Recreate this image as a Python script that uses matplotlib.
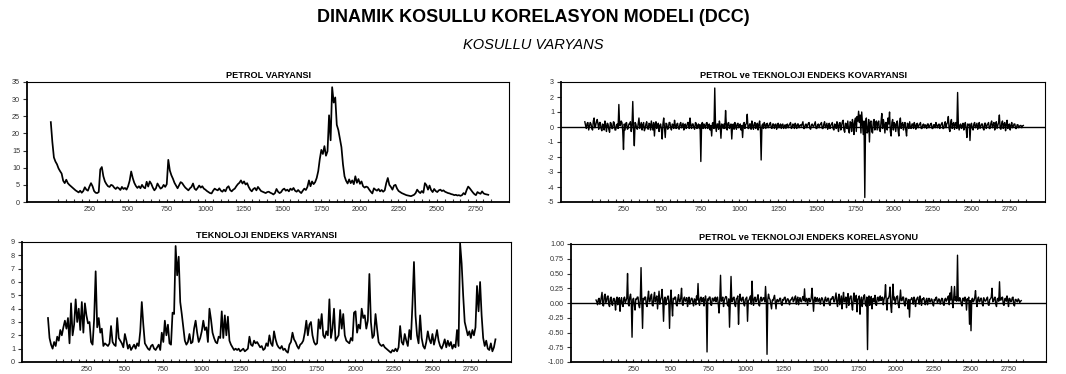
import numpy as np
import matplotlib
matplotlib.use("Agg")
import matplotlib.pyplot as plt
from matplotlib.ticker import FixedLocator, FormatStrFormatter

plt.rcParams['font.family'] = ['Liberation Sans', 'DejaVu Sans']

# Variances are sampled every 10 observations, covariance/correlation every 5
VAR_STEP = 10
COV_STEP = 5
START = 1

petrol_var = [
    23.3, 17.5, 13.0, 11.8, 11.0, 9.8, 9.0, 8.3, 6.2, 5.5,
    6.5, 5.5, 5.0, 4.6, 4.2, 3.8, 3.4, 3.1, 2.8, 3.3,
    2.7, 3.2, 4.3, 3.6, 3.3, 4.5, 5.5, 4.6, 3.2, 2.7,
    2.6, 2.9, 9.5, 10.2, 7.5, 6.0, 5.2, 4.6, 4.4, 5.0,
    4.8, 4.2, 3.8, 4.3, 4.0, 3.5, 4.4, 3.8, 4.1, 3.6,
    4.6, 6.2, 8.9, 7.0, 5.6, 4.7, 4.1, 4.6, 4.0, 5.0,
    4.3, 4.0, 5.9, 4.5, 6.0, 5.3, 4.2, 3.4, 4.0, 5.4,
    4.6, 3.9, 4.2, 5.0, 4.4, 5.2, 12.3, 9.2, 7.8, 6.8,
    5.6, 4.8, 4.0, 4.9, 5.8, 5.5, 4.8, 4.2, 3.8, 3.4,
    4.0, 4.4, 5.4, 3.9, 3.5, 4.1, 4.8, 4.2, 4.6, 3.9,
    3.6, 3.2, 2.9, 2.6, 2.5, 3.3, 3.9, 3.6, 3.4, 4.0,
    3.3, 3.0, 3.6, 3.1, 4.2, 4.6, 3.5, 3.1, 3.6, 3.9,
    4.6, 5.2, 5.6, 6.3, 5.4, 6.0, 5.1, 5.5, 4.4, 3.6,
    3.1, 3.8, 4.1, 3.4, 4.4, 3.8, 3.2, 3.0, 2.8, 2.6,
    2.9, 3.0, 2.7, 2.5, 2.2, 2.6, 3.8, 3.0, 2.6, 2.9,
    3.6, 3.9, 3.3, 3.6, 3.1, 3.9, 3.5, 4.1, 3.3, 3.0,
    3.5, 3.0, 2.6, 3.3, 3.9, 3.5, 4.4, 6.3, 4.6, 6.0,
    5.2, 5.8, 7.0, 9.0, 12.5, 15.2, 14.0, 16.3, 13.5, 14.8,
    25.3, 18.0, 33.5, 29.0, 30.5, 22.5, 21.0, 18.5, 16.0, 11.0,
    7.5, 6.2, 5.4, 6.6, 5.5, 6.3, 5.2, 7.5, 5.6, 6.7,
    5.3, 6.0, 4.6, 4.2, 4.5, 4.3, 3.6, 3.0, 2.5, 4.0,
    3.6, 3.3, 3.8, 3.1, 3.5, 3.0, 3.4, 5.5, 7.0, 5.0,
    4.4, 3.6, 4.8, 5.0, 3.9, 3.2, 2.9, 2.6, 2.4, 2.2,
    2.0, 1.9, 1.8, 1.7, 1.9, 2.1, 2.6, 3.6, 3.0, 2.6,
    3.2, 2.7, 5.5, 4.9, 3.6, 4.8, 3.5, 2.9, 3.8, 3.2,
    2.9, 3.4, 3.6, 3.2, 3.4, 3.0, 2.8, 2.6, 2.5, 2.3,
    2.2, 2.0, 2.1, 1.9, 2.0, 1.8, 2.0, 2.6, 2.2, 3.5,
    4.5, 4.0, 3.4, 2.8, 2.3, 2.0, 2.9, 2.6, 2.4, 3.1,
    2.5, 2.3, 2.2, 2.1,
]

tech_var = [
    3.3, 1.8, 1.3, 1.0, 1.5, 1.2, 1.9, 1.6, 2.4, 2.0,
    2.6, 3.1, 2.5, 3.3, 1.4, 4.4, 2.0, 2.8, 4.7, 3.0,
    4.0, 2.4, 4.5, 2.2, 4.4, 3.5, 2.9, 3.0, 1.5, 1.3,
    3.2, 6.8, 2.6, 3.3, 2.2, 2.5, 1.2, 1.4, 1.3, 1.2,
    1.4, 2.7, 1.5, 1.3, 1.2, 3.3, 1.8, 1.6, 1.4, 1.1,
    2.1, 1.6, 1.0, 1.3, 0.9, 1.1, 1.3, 1.0, 1.4, 1.2,
    2.3, 4.5, 2.8, 1.4, 1.2, 1.0, 0.9, 1.2, 1.3, 1.0,
    0.9, 1.1, 1.3, 0.9, 2.2, 1.5, 3.1, 2.0, 2.8, 1.4,
    1.3, 3.7, 3.6, 8.7, 6.5, 7.9, 4.5, 3.6, 2.6, 1.6,
    1.3, 1.5, 2.1, 1.4, 1.5, 2.5, 3.1, 2.2, 1.5, 1.8,
    2.3, 3.1, 2.4, 2.6, 1.5, 4.0, 3.2, 2.2, 1.8, 1.5,
    1.4, 1.9, 1.8, 3.8, 1.8, 3.5, 2.0, 3.4, 1.6, 1.3,
    1.1, 0.9, 1.0, 0.9, 1.0, 0.8, 0.9, 1.0, 0.8, 0.9,
    1.0, 1.9, 1.3, 1.2, 1.6, 1.4, 1.5, 1.3, 1.1, 1.2,
    0.9, 1.0, 1.4, 1.2, 2.0, 1.4, 1.2, 2.3, 1.7, 1.3,
    1.1, 1.0, 1.2, 0.9, 1.0, 0.8, 0.7, 1.3, 1.5, 2.2,
    1.7, 1.5, 1.2, 1.0, 1.3, 1.4, 1.6, 2.2, 3.1, 2.0,
    2.8, 3.0, 2.0, 1.5, 1.3, 1.4, 3.2, 2.5, 3.6, 2.0,
    1.8, 2.3, 2.0, 4.7, 1.8, 2.5, 4.0, 1.6, 1.8, 2.0,
    3.9, 2.5, 3.6, 2.0, 1.6, 1.5, 1.4, 1.8, 1.6, 3.7,
    3.8, 2.2, 2.8, 2.5, 4.0, 3.3, 3.5, 2.5, 3.1, 6.6,
    3.0, 1.8, 2.0, 3.6, 2.5, 1.5, 1.3, 1.2, 1.3, 1.1,
    1.0, 0.9, 0.8, 0.7, 0.9, 0.8, 1.0, 0.8, 1.1, 2.7,
    1.5, 1.3, 2.1, 1.6, 1.2, 2.4, 1.7, 4.3, 7.5, 3.5,
    2.0, 1.4, 3.5, 1.8, 1.2, 1.0, 1.5, 2.3, 1.7, 1.4,
    2.1, 1.3, 1.8, 2.4, 1.6, 1.2, 1.0, 1.3, 1.7, 1.1,
    1.6, 1.2, 1.5, 1.0, 1.3, 1.1, 2.4, 1.2, 8.9, 7.4,
    5.0, 3.0, 2.5, 2.0, 2.3, 1.8, 2.4, 2.0, 2.6, 5.7,
    3.8, 6.0, 3.5, 1.8, 1.2, 1.6, 1.0, 0.9, 1.4, 0.8,
    1.1, 1.7,
]

covariance = [
    0.35, 0.1, -0.1, 0.25, 0.3, -0.2, 0.05, 0.3, 0.2, -0.1, -0.2, 0.4, 0.6, -0.05, 0.1, 0.35, 0.5, 0.2, -0.15, 0.3,
    0.3, -0.1, -0.25, 0.2, 0.15, -0.2, 0.4, 0.1, -0.3, 0.25, 0.2, -0.15, -0.35, 0.3, 0.25, -0.1, -0.1, 0.35, 0.3, -0.2,
    -0.2, 0.15, 0.2, -0.1, 1.5, 0.1, 0.1, 0.4, 0.3, -0.25, -1.5, 0.2, -0.2, 0.25, 0.3, -0.15, -0.1, 0.2, 0.2, 0.35,
    -0.3, 0.1, 1.7, -0.2, -1.25, 0.3, 0.2, -0.1, -0.15, 0.25, 0.6, -0.1, 0.1, 0.3, -0.2, 0.15, 0.3, -0.25, -0.1, 0.2,
    0.35, -0.1, -0.15, 0.25, 0.2, -0.2, 0.4, 0.1, -0.2, 0.3, -0.6, 0.15, 0.35, -0.1, 0.1, 0.25, -0.3, 0.1, 0.2, -0.15,
    -0.8, 0.2, 0.6, -0.1, -0.7, 0.25, 0.2, -0.15, -0.1, 0.3, 0.3, -0.05, -0.2, 0.2, 0.15, -0.1, 0.45, 0.1, -0.1, 0.2,
    0.25, -0.1, -0.15, 0.2, 0.3, -0.05, 0.1, 0.25, -0.2, 0.15, 0.2, -0.1, 0.05, 0.3, 0.3, -0.1, 0.6, 0.1, -0.1, 0.2,
    0.2, -0.05, -0.15, 0.3, 0.25, -0.1, 0.1, 0.2, -0.1, 0.15, -2.3, 0.2, 0.3, -0.1, 0.2, 0.1, -0.1, 0.25, 0.3, -0.1,
    0.15, 0.2, -0.2, 0.1, -0.6, 0.25, 0.3, -0.1, 2.6, 0.1, -0.3, 0.2, 0.2, -0.15, 0.4, 0.1, -0.75, 0.2, 0.15, -0.1,
    0.2, -0.1, 1.1, 0.15, -0.2, 0.25, 0.3, -0.1, 0.1, 0.2, -0.8, 0.1, 0.2, -0.15, 0.3, 0.1, -0.15, 0.2, 0.25, -0.05,
    0.1, 0.2, -0.2, 0.1, -0.7, 0.2, 0.3, -0.1, 0.15, 0.25, 0.85, -0.1, -0.1, 0.2, 0.2, -0.15, 0.4, 0.1, -0.15, 0.2,
    0.3, -0.1, 0.1, 0.25, -0.2, 0.15, 0.4, -0.1, -2.2, 0.1, 0.2, -0.1, 0.3, 0.15, -0.1, 0.2, 0.25, -0.05, 0.05, 0.2,
    0.3, -0.05, -0.1, 0.2, 0.2, -0.1, 0.15, 0.2, -0.15, 0.1, 0.25, -0.05, 0.1, 0.2, -0.1, 0.15, 0.2, -0.1, 0.05, 0.15,
    -0.1, 0.15, 0.2, -0.05, 0.1, 0.2, 0.3, -0.1, -0.05, 0.2, 0.15, -0.1, 0.25, 0.1, -0.1, 0.2, 0.2, -0.05, 0.1, 0.15,
    0.05, 0.2, 0.35, -0.1, -0.1, 0.15, 0.2, -0.05, 0.1, 0.25, 0.3, -0.1, -0.15, 0.15, 0.2, 0.05, 0.05, 0.2, 0.35, -0.1,
    -0.1, 0.15, 0.2, -0.05, 0.15, 0.2, 0.3, -0.1, -0.1, 0.2, 0.35, -0.05, 0.1, 0.25, -0.15, 0.1, 0.25, -0.1, 0.1, 0.2,
    0.3, -0.1, -0.2, 0.2, 0.15, -0.1, 0.35, 0.1, -0.3, 0.25, 0.3, -0.2, 0.1, 0.35, 0.45, -0.2, -0.35, 0.25, 0.2, -0.1,
    0.4, -0.2, -0.4, 0.35, 0.3, -0.3, 0.5, 0.2, -0.5, 0.4, 0.6, -0.3, 0.7, 0.4, 1.05, 0.3, 0.8, -0.4, 1.0, 0.2,
    -0.5, 0.4, -4.7, 0.3, 0.6, -0.4, -0.3, 0.5, -1.0, 0.3, 0.4, -0.3, -0.4, 0.35, 0.5, -0.2, 0.3, 0.4, -0.2, 0.3,
    0.4, -0.2, -0.3, 0.35, 0.9, -0.1, 0.5, 0.2, -0.4, 0.3, 0.3, -0.2, 0.6, 0.2, 1.0, -0.3, -0.6, 0.3, 0.5, -0.2,
    0.3, 0.2, -0.3, 0.25, 0.4, -0.2, -0.6, 0.3, 0.6, -0.1, 0.2, 0.3, -0.2, 0.15, 0.3, -0.2, -0.6, 0.25, 0.2, -0.1,
    0.35, -0.05, -0.1, 0.2, 0.2, -0.1, 0.3, 0.1, -0.15, 0.2, 0.25, -0.05, 0.1, 0.2, 0.3, -0.1, -0.1, 0.15, 0.2, -0.05,
    0.15, 0.1, -0.1, 0.2, 0.2, -0.05, 0.05, 0.2, 0.25, -0.1, -0.1, 0.15, 0.15, -0.05, 0.3, 0.1, -0.05, 0.15, 0.2, -0.1,
    0.1, 0.2, 0.3, -0.1, -0.1, 0.2, 0.35, -0.05, 0.2, 0.3, 0.7, -0.1, -0.3, 0.3, 0.5, -0.1, 0.2, 0.3, -0.15, 0.2,
    0.3, -0.1, 2.3, 0.1, -0.2, 0.15, 0.2, -0.1, 0.1, 0.25, -0.2, 0.1, 0.3, -0.1, -0.7, 0.2, 0.1, 0.2, -0.9, 0.15,
    0.25, -0.1, -0.2, 0.2, 0.3, -0.05, 0.1, 0.25, -0.15, 0.1, 0.3, -0.1, 0.05, 0.2, 0.2, -0.1, -0.2, 0.25, 0.25, -0.1,
    0.1, 0.2, 0.3, -0.1, -0.1, 0.25, 0.4, -0.05, 0.15, 0.3, -0.2, 0.1, 0.35, -0.1, 0.1, 0.3, 0.8, -0.1, -0.15, 0.25,
    0.4, -0.1, 0.2, 0.3, -0.25, 0.15, 0.45, -0.1, 0.1, 0.2, -0.2, 0.1, 0.3, -0.05, 0.05, 0.2, 0.2, -0.1, -0.1, 0.15,
    0.15, -0.05, 0.05, 0.1, 0.1, -0.05, 0.08, 0.1,
]

correlation = [
    0.05, 0.02, -0.03, 0.06, 0.08, -0.02, 0.02, 0.1, 0.18, -0.04, -0.05, 0.12, 0.15, 0.01, 0.03, 0.11, 0.12, -0.03, -0.06, 0.08,
    0.1, -0.02, -0.04, 0.07, 0.08, 0.02, -0.12, 0.06, 0.1, -0.03, 0.05, 0.09, -0.14, 0.04, 0.09, -0.02, -0.06, 0.08, 0.1, 0.01,
    0.04, 0.08, 0.5, -0.02, -0.05, 0.1, 0.15, 0.02, -0.58, 0.06, 0.08, -0.03, -0.12, 0.07, 0.06, 0.1, 0.1, -0.04, -0.08, 0.05,
    0.6, 0.03, -0.43, 0.08, 0.05, 0.1, 0.1, -0.03, -0.06, 0.09, 0.2, 0.02, 0.03, 0.12, 0.15, -0.04, -0.05, 0.1, 0.18, 0.02,
    0.08, 0.12, -0.1, 0.05, 0.2, -0.02, 0.05, 0.1, 0.23, 0.03, -0.31, 0.07, 0.1, -0.03, 0.04, 0.09, 0.12, 0.02, -0.43, 0.06,
    0.22, -0.02, -0.22, 0.08, 0.06, 0.1, 0.1, -0.03, -0.05, 0.07, 0.14, 0.02, 0.02, 0.09, 0.25, -0.02, -0.04, 0.08, 0.1, 0.03,
    0.05, 0.09, -0.06, 0.04, 0.1, -0.02, 0.03, 0.08, 0.08, 0.02, -0.05, 0.07, 0.06, -0.03, 0.12, 0.05, 0.33, 0.02, -0.04, 0.08,
    0.1, 0.02, 0.04, 0.09, -0.05, 0.06, 0.12, 0.02, -0.83, 0.07, 0.05, 0.1, 0.1, -0.03, -0.04, 0.08, 0.08, 0.03, 0.06, 0.1,
    0.02, 0.08, 0.1, -0.02, -0.17, 0.06, 0.47, 0.03, 0.05, 0.1, -0.06, 0.04, 0.08, 0.11, 0.1, -0.03, -0.05, 0.07, -0.41, 0.05,
    0.45, 0.02, 0.04, 0.09, 0.1, -0.03, -0.06, 0.07, 0.08, 0.12, -0.36, 0.03, 0.15, 0.05, 0.03, 0.09, 0.1, -0.02, -0.05, 0.06,
    0.08, 0.1, -0.31, 0.04, 0.05, 0.09, 0.12, -0.02, 0.37, 0.05, -0.04, 0.08, 0.1, 0.02, 0.03, 0.09, 0.14, -0.03, -0.05, 0.07,
    0.1, 0.03, 0.05, 0.09, 0.08, 0.02, 0.28, 0.05, -0.87, 0.06, 0.15, 0.08, 0.06, -0.02, -0.1, 0.05, 0.04, 0.09, 0.13, 0.02,
    -0.1, 0.05, 0.06, 0.02, 0.03, 0.08, 0.08, -0.02, -0.04, 0.06, 0.05, 0.09, 0.1, 0.01, 0.02, 0.07, 0.07, 0.03, -0.03, 0.05,
    0.05, 0.08, 0.1, 0.02, 0.04, 0.09, 0.12, -0.02, 0.06, 0.1, -0.03, 0.05, 0.09, 0.03, 0.02, 0.08, 0.11, 0.04, 0.24, 0.02,
    0.05, 0.08, -0.04, 0.06, 0.08, 0.02, 0.03, 0.09, 0.25, 0.04, -0.14, 0.06, 0.1, 0.02, 0.06, 0.09, 0.02, 0.05, 0.08, -0.02,
    0.04, 0.09, 0.07, 0.02, -0.05, 0.06, 0.1, 0.03, 0.03, 0.08, 0.08, -0.02, -0.04, 0.07, 0.06, 0.1, 0.11, 0.02, 0.02, 0.09,
    0.17, 0.02, -0.06, 0.09, 0.15, -0.03, 0.05, 0.12, -0.1, 0.06, 0.18, 0.02, 0.04, 0.1, -0.08, 0.07, 0.16, -0.04, 0.06, 0.11,
    0.12, -0.03, -0.12, 0.08, 0.17, 0.02, 0.05, 0.13, -0.15, 0.06, 0.08, 0.12, -0.19, 0.05, 0.1, -0.06, 0.04, 0.12, 0.14, -0.02,
    -0.05, 0.1, -0.79, 0.08, 0.12, -0.04, 0.05, 0.11, -0.1, 0.07, 0.08, 0.02, 0.13, -0.03, -0.04, 0.09, 0.1, 0.03, 0.06, 0.12,
    0.04, 0.09, 0.1, -0.03, 0.06, 0.11, 0.31, 0.02, -0.12, 0.08, 0.08, 0.13, 0.27, -0.04, -0.16, 0.1, 0.32, 0.05, 0.1, -0.02,
    0.06, 0.11, 0.12, -0.03, -0.08, 0.07, 0.22, 0.04, 0.04, 0.1, 0.1, -0.02, -0.05, 0.08, 0.08, 0.03, -0.1, 0.06, -0.24, 0.05,
    0.06, 0.09, 0.04, -0.02, 0.1, 0.06, -0.06, 0.04, 0.08, 0.1, 0.03, -0.02, 0.12, 0.05, -0.04, 0.07, 0.06, 0.09, 0.02, -0.03,
    0.05, 0.08, -0.03, 0.04, 0.08, 0.02, 0.02, 0.07, 0.06, -0.02, -0.05, 0.06, 0.04, 0.09, 0.1, 0.01, 0.02, 0.07, 0.06, -0.02,
    0.03, 0.08, 0.07, -0.02, -0.04, 0.06, 0.08, 0.03, 0.05, 0.1, 0.12, -0.03, 0.17, 0.05, 0.28, 0.02, -0.08, 0.1, 0.28, 0.04,
    0.1, 0.03, 0.81, 0.05, 0.03, 0.09, 0.06, -0.02, -0.05, 0.08, 0.08, 0.03, 0.1, 0.06, -0.12, 0.07, 0.05, 0.1, -0.36, 0.04,
    -0.47, 0.06, 0.08, 0.02, 0.04, 0.09, 0.21, 0.03, -0.06, 0.07, 0.1, 0.02, 0.03, 0.08, 0.08, -0.02, -0.05, 0.09, 0.06, 0.03,
    0.04, 0.08, 0.1, -0.03, -0.04, 0.06, 0.07, 0.1, 0.25, 0.02, 0.03, 0.08, 0.1, -0.02, -0.06, 0.07, 0.08, 0.03, 0.36, 0.05,
    0.05, 0.09, 0.1, -0.02, -0.04, 0.07, 0.08, 0.03, 0.12, 0.05, -0.06, 0.08, 0.07, 0.02, 0.03, 0.09, 0.1, -0.03, -0.05, 0.06,
    0.06, 0.03, 0.02, 0.07, 0.05, 0.01, 0.03, 0.04,
]

main_title = "DINAMIK KOSULLU KORELASYON MODELI (DCC)"
sub_title = "KOSULLU VARYANS"
panel_titles = [
    "PETROL VARYANSI",
    "PETROL ve TEKNOLOJI ENDEKS KOVARYANSI",
    "TEKNOLOJI ENDEKS VARYANSI",
    "PETROL ve TEKNOLOJI ENDEKS KORELASYONU",
]
x_major = list(range(250, 2751, 250))
x_minor = list(range(50, 2851, 50))

W, H = 1066, 374
fig = plt.figure(figsize=(W / 100, H / 100), dpi=100)


def box(l, t, r, b):
    return [l / W, 1 - b / H, (r - l) / W, (b - t) / H]


panels = [
    dict(rect=box(27, 82, 509, 202), data=petrol_var, step=VAR_STEP, lw=1.25,
         xlim=(-153, 2965), ylim=(0, 35), yticks=np.arange(0, 36, 5),
         fmt="%d", zero=False),
    dict(rect=box(561, 82, 1045, 202), data=covariance, step=COV_STEP, lw=1.0,
         xlim=(-153, 2976), ylim=(-5, 3), yticks=np.arange(-5, 4, 1),
         fmt="%d", zero=True),
    dict(rect=box(22, 242, 511, 362), data=tech_var, step=VAR_STEP, lw=1.25,
         xlim=(-168, 3012), ylim=(0, 9), yticks=np.arange(0, 10, 1),
         fmt="%d", zero=False),
    dict(rect=box(571, 244, 1046, 362), data=correlation, step=COV_STEP, lw=1.0,
         xlim=(-166, 3001), ylim=(-1, 1), yticks=np.arange(-1, 1.01, 0.25),
         fmt="%.2f", zero=True),
]

for p, title in zip(panels, panel_titles):
    ax = fig.add_axes(p["rect"])
    y = np.asarray(p["data"], dtype=float)
    x = START + p["step"] * np.arange(len(y))
    if p["zero"]:
        ax.axhline(0, color="black", lw=1.0, zorder=1)
    ax.plot(x, y, color="black", lw=p["lw"], zorder=2)
    ax.set_xlim(*p["xlim"])
    ax.set_ylim(*p["ylim"])
    ax.xaxis.set_major_locator(FixedLocator(x_major))
    ax.xaxis.set_minor_locator(FixedLocator(x_minor))
    ax.yaxis.set_major_locator(FixedLocator(p["yticks"]))
    ax.yaxis.set_major_formatter(FormatStrFormatter(p["fmt"]))
    ax.tick_params(axis="x", which="both", direction="in", length=2.0,
                   width=0.8, labelsize=5.2, colors="#333333", pad=3)
    ax.tick_params(axis="y", which="major", direction="out", length=3.0,
                   width=0.8, labelsize=5.2, colors="#333333", pad=2)
    for side in ("left", "bottom"):
        ax.spines[side].set_linewidth(1.3)
    for side in ("top", "right"):
        ax.spines[side].set_linewidth(0.8)
    ax.set_title(title, fontsize=6.6, fontweight="bold", pad=3)

fig.text(0.5, 1 - 18 / H, main_title, ha="center", va="center",
         fontsize=13, fontweight="bold")
fig.text(0.5, 1 - 45 / H, sub_title, ha="center", va="center",
         fontsize=10.5, style="italic")

fig.savefig("out.png", dpi=100)
